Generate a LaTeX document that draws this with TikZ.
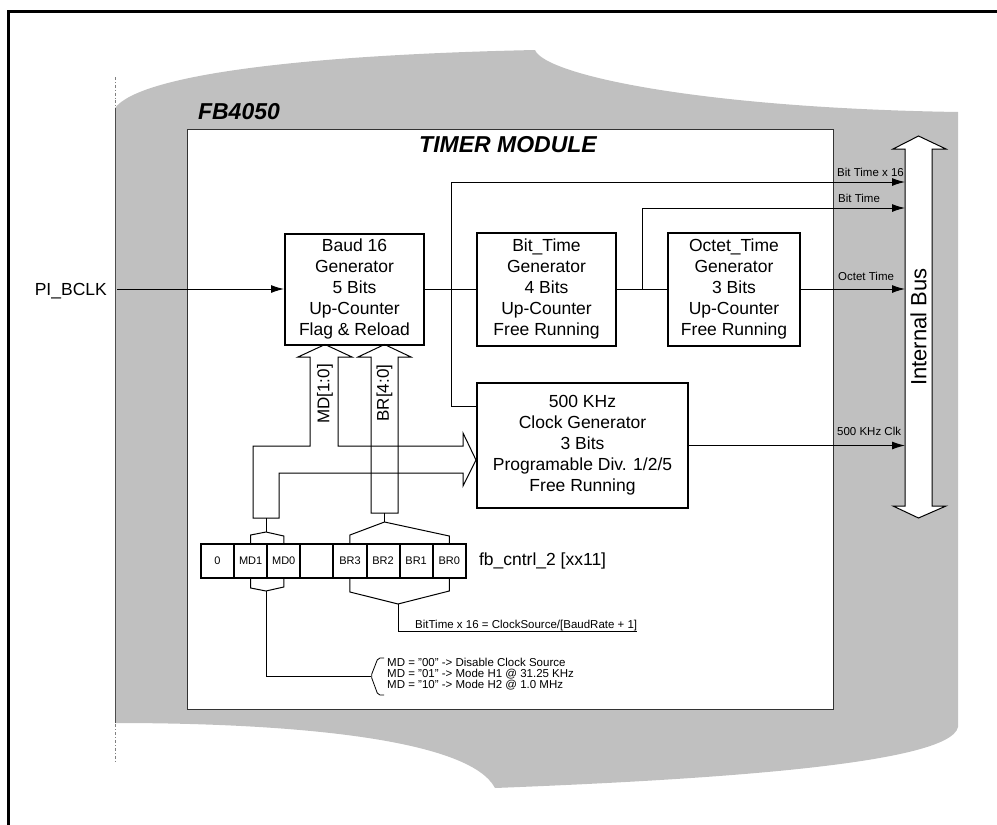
\documentclass[tikz,border=0pt]{standalone}
\usepackage{fontspec}
\setmainfont{Liberation Sans}
\usepackage{xcolor}
\usepackage{tikz}
\usetikzlibrary{arrows.meta, positioning, calc}

\definecolor{fbgrey}{RGB}{192,192,192}

\tikzset{
  block/.style={draw, line width=2pt, fill=white, align=center, inner sep=0pt,
    font=\fontsize{17.5}{21}\selectfont},
  cell/.style={draw, line width=2pt, minimum width=33.1pt, minimum height=34pt,
    inner sep=0pt, font=\fontsize{11}{11}\selectfont},
  sig/.style={line width=1pt, -{Latex[length=13pt,width=8pt]}},
  wire/.style={line width=1pt},
  small/.style={font=\fontsize{11.5}{11}\selectfont, inner sep=0pt},
  heading/.style={font=\fontsize{23}{23}\selectfont\bfseries\itshape, inner sep=0pt},
}

\begin{document}
\begin{tikzpicture}[x=1pt, y=-1pt]
\useasboundingbox (0,0) rectangle (997,825);

% Outer frame
\draw[line width=3pt] (8,840) -- (8,11) -- (1010,11);

% FB4050 chip outline
\fill[fbgrey] (115,108) .. controls (140,75) and (300,55) .. (535,50)
  .. controls (545,75) and (700,108) .. (958,112) -- (958,727)
  .. controls (950,765) and (700,780) .. (495,788)
  .. controls (470,740) and (300,723) .. (115,723) -- cycle;
\draw[gray, line width=0.8pt, dash dot] (115,77) -- (115,762);
\draw[black!70, line width=0.8pt] (115,108) -- (115,723);
\node[heading] (chip) at (239,112) {FB4050};

% Timer module
\node[draw=black!80, line width=1pt, fill=white, minimum width=646pt, minimum height=580pt,
  anchor=north west, inner sep=0pt] (timer) at (187,129) {};
\node[heading] (timertitle) at (508,145) {TIMER MODULE};

% Counter blocks
\node[block, minimum width=139pt, minimum height=111pt] (baud) at (354.5,289)
  {Baud 16\\Generator\\5 Bits\\Up-Counter\\Flag \& Reload};
\node[block, minimum width=139pt, minimum height=113pt] (bittime) at (546.5,289)
  {Bit\_Time\\Generator\\4 Bits\\Up-Counter\\Free Running};
\node[block, minimum width=132pt, minimum height=113pt] (octet) at (734,289)
  {Octet\_Time\\Generator\\3 Bits\\Up-Counter\\Free Running};
\node[block, minimum width=211pt, minimum height=125pt] (clk) at (582.5,445.5)
  {500 KHz\\Clock Generator\\3 Bits\\Programable Div. 1/2/5\\Free Running};

% Internal bus
\draw[line width=1pt, fill=white] (905,149) -- (893,149) -- (918.5,136) -- (946,149)
  -- (932,149) -- (932,506) -- (946,506) -- (918.5,518) -- (893,506) -- (905,506) -- cycle;
\node[rotate=90, inner sep=0pt, font=\fontsize{22}{22}\selectfont] (busname) at (918.5,327) {Internal Bus};
\coordinate (busW) at (905,327);

% Clock input and outputs
\node[anchor=base east, inner sep=0pt, font=\fontsize{17.5}{21}\selectfont] (pibclk) at (107,295) {PI\_BCLK};
\coordinate (pin) at (117,289);
\draw[sig] (pin) -- (baud.west);
\draw[wire] (baud.east) -- (bittime.west);
\draw[wire] (bittime.east) -- (octet.west);
\draw[sig] (octet.east) -- (octet.east -| busW);
\draw[sig] (clk.east) -- (clk.east -| busW);
\draw[sig] (clk.west |- 0,406) -| (451,182) -- (busW |- 0,182);
\coordinate (tapbit) at ($(bittime.east)!0.5!(octet.west)$);
\draw[sig] (tapbit) |- (busW |- 0,208);

\node[small, anchor=base west] (lbl16) at (837,176) {Bit Time x 16};
\node[small, anchor=base west] (lblbit) at (838,202) {Bit Time};
\node[small, anchor=base west] (lbloct) at (838,280) {Octet Time};
\node[small, anchor=base west] (lblclk) at (837,435) {500 KHz Clk};

% Control buses MD and BR
\draw[wire] (253,518) -- (253,446) -- (310,446) -- (310,357) -- (298,357) -- (325,344.5)
  -- (352,357) -- (338,357) -- (338,446) -- (463,446) -- (463,433) -- (clk.west |- 0,460)
  -- (463,486) -- (463,473) -- (279,473) -- (279,518) -- cycle;
\draw[wire] (371,513) -- (371,357) -- (358,357) -- (384.5,344.5) -- (411,357)
  -- (398,357) -- (398,513) -- cycle;
\node[rotate=90, inner sep=0pt, font=\fontsize{17}{17}\selectfont] (mdname) at (325,394) {MD[1:0]};
\node[rotate=90, inner sep=0pt, font=\fontsize{17}{17}\selectfont] (brname) at (384.5,393) {BR[4:0]};

% Register fb_cntrl_2
\foreach \bit [count=\i] in {0,MD1,MD0,{},BR3,BR2,BR1,BR0}
  \node[cell] (r\i) at ({201+33.1*(\i-0.5)},561) {\bit};
\node[right=12pt of r8, inner sep=0pt, font=\fontsize{17.5}{21}\selectfont] (regname) {fb\_cntrl\_2 [xx11]};

% Braces above the register
\draw[wire] (r2.north) -- ++(0,-8) -- (266,532) -- (r3.north |- 0,536) -- (r3.north);
\draw[wire] (266,518) -- (266,532);
\draw[wire] (r5.north) -- ++(0,-8) -- (384.5,522) -- (r8.north |- 0,536) -- (r8.north);
\draw[wire] (384.5,513) -- (384.5,522);

% Braces below the register
\coordinate (mdjoin) at (266,591);
\draw[wire] (r2.south) -- ++(0,9) -- (mdjoin) -- (r3.south |- 0,587) -- (r3.south);
\coordinate (brjoin) at (398,604);
\draw[wire] (r5.south) -- ++(0,13) -- (brjoin) -- (r8.south |- 0,591) -- (r8.south);

% Notes
\node[small, anchor=base west] (formula) at (415,628) {BitTime x 16 = ClockSource/[BaudRate + 1]};
\draw[wire] (brjoin) |- (formula.east |- 0,631);
\node[small, anchor=west, align=left] (modes) at (387,674)
  {MD = "00" -> Disable Clock Source\\MD = "01" -> Mode H1 @ 31.25 KHz\\MD = "10" -> Mode H2 @ 1.0 MHz};
\coordinate (modebrace) at (371,676);
\draw[wire] (mdjoin) |- (modebrace);
\draw[line width=0.8pt, rounded corners=2pt] (384,658) -- (378,658) -- (modebrace) -- (378,695) -- (384,695);
\end{tikzpicture}
\end{document}
